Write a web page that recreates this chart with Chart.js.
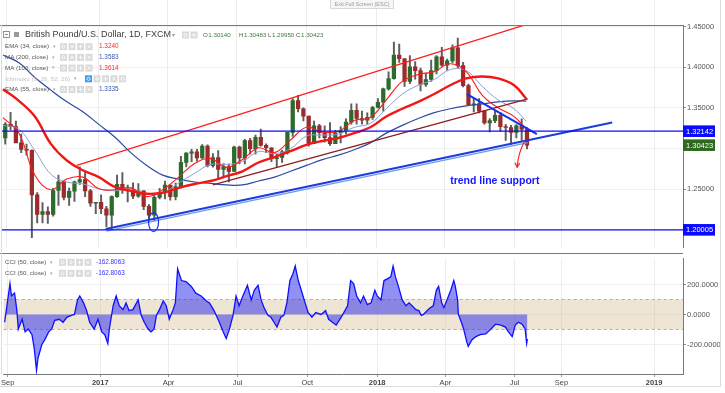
<!DOCTYPE html>
<html><head><meta charset="utf-8">
<script src="https://cdn.jsdelivr.net/npm/chart.js@4/dist/chart.umd.min.js"></script>
<style>
html,body{margin:0;padding:0;background:#fff;}
body{width:725px;height:393px;overflow:hidden;position:relative;}
#c1{position:absolute;left:0;top:0;}
#c2{position:absolute;left:0;top:253px;}
</style></head>
<body>
<canvas id="c1" width="725" height="253"></canvas>
<canvas id="c2" width="725" height="140"></canvas>
<script>
// ---------------- DATA ----------------
const baseDate = '2016-09-01';
const candleStart = '2016-08-22'; // Monday of first weekly candle
const opens  = [1.3090,1.3130,1.3300,1.3270,1.3070,1.2990,1.2980,1.2430,1.2190,1.2225,1.2190,1.2485,1.2590,1.2400,1.2475,1.2590,1.2620,1.2480,1.2330,1.2340,1.2260,1.2180,1.2410,1.2560,1.2490,1.2480,1.2415,1.2480,1.2290,1.2180,1.2400,1.2460,1.2550,1.2410,1.2530,1.2830,1.2945,1.2960,1.2885,1.3030,1.2790,1.2890,1.2745,1.2780,1.2720,1.3020,1.2885,1.3100,1.3000,1.3140,1.3040,1.3010,1.2875,1.2890,1.2960,1.3200,1.3590,1.3490,1.3400,1.3065,1.3280,1.3195,1.3135,1.3060,1.3195,1.3220,1.3325,1.3470,1.3370,1.3350,1.3385,1.3505,1.3570,1.3735,1.3860,1.4150,1.4105,1.3825,1.4005,1.3960,1.3790,1.3850,1.3960,1.4130,1.4025,1.4080,1.4240,1.4020,1.3775,1.3535,1.3550,1.3460,1.3315,1.3345,1.3410,1.3270,1.3260,1.3200,1.3280,1.3235];
const highs  = [1.3255,1.3320,1.3445,1.3340,1.3180,1.3055,1.2985,1.2460,1.2335,1.2285,1.2510,1.2675,1.2600,1.2515,1.2600,1.2775,1.2705,1.2500,1.2340,1.2430,1.2290,1.2420,1.2675,1.2705,1.2550,1.2580,1.2570,1.2480,1.2310,1.2430,1.2510,1.2600,1.2550,1.2575,1.2905,1.2950,1.2990,1.2990,1.3048,1.3045,1.2940,1.2975,1.2815,1.2810,1.3030,1.3030,1.3115,1.3125,1.3165,1.3240,1.3060,1.3010,1.2930,1.2980,1.3200,1.3615,1.3655,1.3500,1.3400,1.3340,1.3300,1.3280,1.3320,1.3225,1.3270,1.3365,1.3550,1.3550,1.3460,1.3440,1.3520,1.3615,1.3745,1.3945,1.4310,1.4285,1.4110,1.4145,1.4070,1.3990,1.3930,1.4090,1.4145,1.4245,1.4100,1.4275,1.4360,1.4060,1.3795,1.3620,1.3615,1.3470,1.3370,1.3470,1.3445,1.3300,1.3285,1.3295,1.3365,1.3260];
const lows   = [1.3055,1.3055,1.3230,1.3090,1.2950,1.2920,1.1905,1.2085,1.2085,1.2080,1.2170,1.2300,1.2370,1.2300,1.2350,1.2560,1.2410,1.2290,1.2200,1.2200,1.2040,1.2010,1.2400,1.2450,1.2345,1.2385,1.2400,1.2250,1.2110,1.2110,1.2380,1.2380,1.2365,1.2370,1.2515,1.2775,1.2840,1.2845,1.2880,1.2775,1.2770,1.2635,1.2640,1.2590,1.2720,1.2810,1.2810,1.2930,1.2930,1.3030,1.2950,1.2840,1.2775,1.2830,1.2930,1.3150,1.3450,1.3340,1.3030,1.3060,1.3130,1.3080,1.3040,1.3060,1.3070,1.3180,1.3300,1.3300,1.3300,1.3300,1.3360,1.3500,1.3460,1.3720,1.3855,1.4060,1.3765,1.3800,1.3855,1.3710,1.3765,1.3825,1.3920,1.4010,1.3965,1.4055,1.3990,1.3760,1.3530,1.3450,1.3440,1.3300,1.3205,1.3320,1.3210,1.3100,1.3050,1.3130,1.3100,1.2995];
const closes = [1.3130,1.3300,1.3270,1.3070,1.2990,1.2980,1.2430,1.2190,1.2225,1.2190,1.2485,1.2590,1.2400,1.2475,1.2590,1.2620,1.2480,1.2330,1.2340,1.2260,1.2180,1.2410,1.2560,1.2490,1.2480,1.2415,1.2480,1.2290,1.2180,1.2400,1.2460,1.2550,1.2410,1.2530,1.2830,1.2945,1.2960,1.2885,1.3030,1.2790,1.2890,1.2745,1.2780,1.2720,1.3020,1.2885,1.3100,1.3000,1.3140,1.3040,1.3010,1.2875,1.2890,1.2960,1.3200,1.3590,1.3490,1.3400,1.3065,1.3280,1.3195,1.3135,1.3060,1.3195,1.3220,1.3325,1.3470,1.3370,1.3350,1.3385,1.3505,1.3570,1.3735,1.3860,1.4150,1.4105,1.3825,1.4005,1.3960,1.3790,1.3850,1.3960,1.4130,1.4025,1.4080,1.4240,1.4020,1.3775,1.3535,1.3550,1.3460,1.3315,1.3345,1.3410,1.3270,1.3260,1.3200,1.3280,1.3235,1.30423];

const maDates = ['2016-08-28','2016-09-18','2016-10-09','2016-10-30','2016-11-20','2016-12-11','2017-01-01','2017-01-22','2017-02-12','2017-03-05','2017-03-26','2017-04-16','2017-05-07','2017-05-28','2017-06-18','2017-07-09','2017-07-30','2017-08-20','2017-09-10','2017-10-01','2017-10-22','2017-11-12','2017-12-03','2017-12-24','2018-01-14','2018-02-04','2018-02-25','2018-03-18','2018-04-08','2018-04-29','2018-05-20','2018-06-10','2018-07-01','2018-07-17'];
const ema34 = [1.3382,1.3190,1.2673,1.2493,1.2625,1.2649,1.2505,1.2493,1.2517,1.2409,1.2493,1.2649,1.2817,1.2877,1.2769,1.2865,1.3010,1.2950,1.3106,1.3262,1.3202,1.3214,1.3346,1.3382,1.3599,1.3827,1.3911,1.3947,1.4043,1.3947,1.3659,1.3502,1.3394,1.3240];
const ma200 = [1.4151,1.4055,1.3875,1.3719,1.3575,1.3454,1.3298,1.3142,1.2950,1.2793,1.2673,1.2625,1.2589,1.2571,1.2553,1.2553,1.2601,1.2649,1.2721,1.2793,1.2865,1.2919,1.2986,1.3070,1.3190,1.3286,1.3370,1.3442,1.3490,1.3526,1.3550,1.3575,1.3587,1.3583];
const ma100 = [1.3731,1.3587,1.3394,1.3058,1.2853,1.2733,1.2649,1.2529,1.2481,1.2445,1.2457,1.2517,1.2565,1.2601,1.2661,1.2721,1.2829,1.2895,1.2968,1.3046,1.3094,1.3130,1.3190,1.3262,1.3394,1.3490,1.3575,1.3671,1.3779,1.3863,1.3887,1.3863,1.3779,1.3614];
const ema55 = [1.3286,1.3238,1.2974,1.2685,1.2589,1.2565,1.2505,1.2481,1.2505,1.2445,1.2457,1.2577,1.2697,1.2805,1.2805,1.2841,1.2962,1.2937,1.2998,1.3154,1.3166,1.3178,1.3262,1.3310,1.3490,1.3671,1.3779,1.3851,1.3971,1.3959,1.3767,1.3599,1.3490,1.3335];

// CCI(50): days after baseDate and values
const cciDay = [-4,-1,3,5,9,12,14,16,19,23,27,32,35,38,40,45,49,54,58,62,68,73,78,84,88,92,95,100,104,108,114,119,124,128,132,134,139,143,147,152,156,160,165,172,176,180,185,189,193,196,200,205,209,213,218,221,224,229,235,242,248,255,262,266,272,279,284,288,292,297,301,305,310,316,321,325,330,334,338,343,347,351,355,360,364,368,372,376,379,383,387,392,396,401,406,413,419,423,428,433,437,441,448,452,456,460,465,469,474,479,484,487,492,496,501,505,508,511,515,520,525,529,533,538,542,545,548,553,557,561,565,568,572,575,579,584,588,590,593,594,598,601,605,607,612,617,623,630,636,643,650,656,660,665,669,673,678,682,684,685];
const cciValue = [-52,58,206,123,142,32,-97,-71,-32,-116,-97,-135,-226,-374,-290,-200,-168,-116,-97,-39,-32,-52,-19,-6,0,97,123,77,26,-52,-97,-32,-116,-135,-194,-97,58,123,58,32,77,26,32,97,-6,-52,-97,-116,-97,-6,32,90,58,-32,32,77,303,226,219,187,142,123,90,77,26,-52,-116,-161,-103,-6,123,58,123,194,97,161,194,97,45,-6,-19,-52,-84,-19,-6,77,226,271,323,226,161,77,13,-19,13,0,26,-32,-52,-71,-39,-6,58,226,206,123,77,123,65,77,161,123,97,226,239,252,323,252,187,97,58,77,58,32,26,-6,0,26,45,58,161,187,77,45,97,161,226,187,97,0,-52,-97,-181,-213,-168,-148,-135,-129,-103,-65,-71,-84,-116,-148,-71,-52,-65,-97,-194,-162.8063];
const cciBand = [100, -100];
const cciTicks = [-200, 0, 200];

// Drawn objects (date, price)
const channelTop    = {d:['2016-12-03','2018-07-22'], v:[1.2793,1.4541]};
const channelBottom = {d:['2017-05-31','2018-07-19'], v:[1.2553,1.3611]};
const supportLine   = {d:['2017-01-10','2018-11-07'], v:[1.2012,1.3322]};
const supportLine2  = {d:['2017-01-11','2018-07-19'], v:[1.1985,1.3073]};
const downTrend     = {d:['2018-04-30','2018-07-31'], v:[1.3671,1.3178]};
const hLevels = [1.32142, 1.20005];
const lastClose = 1.30423;
const ellipseAt = {d:'2017-03-14', v:1.2096};
const arrowLine = {d:['2018-07-15','2018-07-05'], v:[1.3094,1.2769]};
const noteText = {d:'2018-04-08', v:1.2605, text:'trend line support'};

const priceTicks = [1.20,1.25,1.30,1.35,1.40,1.45];
const xTickLabels = ['Sep','2017','Apr','Jul','Oct','2018','Apr','Jul','Sep','2019'];
const xTickDates  = ['2016-09-01','2017-01-01','2017-04-01','2017-07-01','2017-10-01','2018-01-01','2018-04-01','2018-07-01','2018-09-01','2019-01-01'];
const xTickBold   = [false,true,false,false,false,true,false,false,false,true];

const titleText = 'British Pound/U.S. Dollar, 1D, FXCM';
const ohlc = [['O','1.30140'],['H','1.30483'],['L','1.29950'],['C','1.30423']];
const legendRows = [
  {name:'EMA (34, close)', val:'1.3240', col:'#ff2626'},
  {name:'MA (200, close)', val:'1.3583', col:'#3a56ae'},
  {name:'MA (100, close)', val:'1.3614', col:'#ff2626'},
  {name:'Ichimoku (9, 26, 52, 26)', val:'', col:'#bbb', hidden:true},
  {name:'EMA (55, close)', val:'1.3335', col:'#3a56ae'}
];
const cciLegend = [{name:'CCI (50, close)', val:'-162.8063'},{name:'CCI (50, close)', val:'-162.8063'}];

// ---------------- HELPERS ----------------
const BASE = Date.parse(baseDate + 'T00:00:00Z');
const dayOf = s => (Date.parse(s + 'T00:00:00Z') - BASE) / 86400000;
const FONT = '"Liberation Sans", Arial, sans-serif';
const X_MIN = -5.26, X_MAX = 890.1;
const tickDays = xTickDates.map(dayOf);
const c0 = dayOf(candleStart);
const candleX = i => c0 + 7 * i + 2;
const pts = (dates, vals) => dates.map((d, i) => ({x: dayOf(d), y: vals[i]}));
const seg = o => pts(o.d, o.v);
const lineDs = (data, color, width, tension) => ({type:'line', data, borderColor:color, borderWidth:width, pointRadius:0, tension:tension||0, fill:false});

// ---------------- PRICE CHART ----------------
const datasets1 = [
  lineDs([{x:X_MIN,y:hLevels[0]},{x:X_MAX,y:hLevels[0]}], '#0b0bff', 1.3),
  lineDs([{x:X_MIN,y:hLevels[1]},{x:X_MAX,y:hLevels[1]}], '#0b0bff', 1.3),
  lineDs(seg(downTrend), '#1433e6', 2),
  lineDs(seg(supportLine), '#1c3ce0', 2),
  lineDs(seg(supportLine2), '#6f9ae8', 1.4),
  lineDs(seg(channelTop), '#ff1e1e', 1.3),
  lineDs(seg(channelBottom), '#8e1c1c', 1.2),
  lineDs(pts(maDates, ema34), '#ff1a1a', 1.1, 0.4),
  lineDs(pts(maDates, ma100), '#f21616', 2.4, 0.4),
  lineDs(pts(maDates, ema55), '#8b9fd6', 1, 0.4),
  lineDs(pts(maDates, ma200), '#2c4aa2', 1.2, 0.4),
  {type:'bar', grouped:false, barThickness:3.6, borderWidth:0,
   data: opens.map((o,i)=>({x:candleX(i), y:[o, closes[i]]})),
   backgroundColor: opens.map((o,i)=> closes[i] >= o ? '#2b6b2b' : '#9c2b2b')},
  {type:'bar', grouped:false, barThickness:1.3, borderWidth:0,
   data: lows.map((l,i)=>({x:candleX(i), y:[l, highs[i]]})),
   backgroundColor:'#5e5e5e'}
];

function box(ctx, x, y, col){
  ctx.fillStyle = col; ctx.fillRect(x, y-3.5, 7, 7);
}
function icons(ctx, x0, y, n, step, firstBlue){
  for (let i=0;i<n;i++){
    const x = x0 + i*step;
    box(ctx, x, y, (firstBlue && i===0) ? '#3d9be9' : '#dadada');
    ctx.strokeStyle = '#fff'; ctx.lineWidth = 0.8; ctx.beginPath();
    const k = i;
    if (k % 4 === 0){ ctx.arc(x+3.5, y, 1.6, 0, Math.PI*2); }
    else if (k % 4 === 1){ ctx.arc(x+3.5, y, 1.3, 0, Math.PI*2); }
    else if (k % 4 === 2){ ctx.moveTo(x+1.5,y); ctx.lineTo(x+5.5,y); ctx.moveTo(x+3.5,y-2); ctx.lineTo(x+3.5,y+2); }
    else { ctx.moveTo(x+1.8,y-1.8); ctx.lineTo(x+5.2,y+1.8); ctx.moveTo(x+5.2,y-1.8); ctx.lineTo(x+1.8,y+1.8); }
    ctx.stroke();
  }
}

const pricePlugin = {
  id:'pricePlugin',
  beforeDraw(chart){
    const ctx = chart.ctx, xs = chart.scales.x;
    ctx.save();
    ctx.fillStyle = '#fff'; ctx.fillRect(0,0,chart.width,chart.height);
    ctx.strokeStyle = '#ececec'; ctx.lineWidth = 1;
    tickDays.forEach(v=>{ const px = Math.round(xs.getPixelForValue(v))+0.5; ctx.beginPath(); ctx.moveTo(px,0); ctx.lineTo(px,25); ctx.stroke(); });
    ctx.restore();
  },
  afterDatasetsDraw(chart){
    const ctx = chart.ctx, xs = chart.scales.x, ys = chart.scales.y, a = chart.chartArea;
    ctx.save();
    ctx.beginPath(); ctx.rect(a.left, a.top, a.right-a.left, a.bottom-a.top); ctx.clip();
    // ellipse
    ctx.strokeStyle = '#1733e0'; ctx.lineWidth = 1.2;
    ctx.beginPath(); ctx.ellipse(xs.getPixelForValue(dayOf(ellipseAt.d)), ys.getPixelForValue(ellipseAt.v), 5, 9.5, 0, 0, Math.PI*2); ctx.stroke();
    // arrow
    const x1 = xs.getPixelForValue(dayOf(arrowLine.d[0])), y1 = ys.getPixelForValue(arrowLine.v[0]);
    const x2 = xs.getPixelForValue(dayOf(arrowLine.d[1])), y2 = ys.getPixelForValue(arrowLine.v[1]);
    ctx.strokeStyle = '#ff2020'; ctx.lineWidth = 1.2;
    ctx.beginPath(); ctx.moveTo(x1,y1); ctx.quadraticCurveTo(x2+1, y1+12, x2, y2); ctx.stroke();
    const ang = Math.atan2(y2-(y1+12), x2-(x2+1));
    ctx.beginPath();
    ctx.moveTo(x2 - 5*Math.cos(ang-0.5), y2 - 5*Math.sin(ang-0.5)); ctx.lineTo(x2,y2);
    ctx.lineTo(x2 - 5*Math.cos(ang+0.5), y2 - 5*Math.sin(ang+0.5)); ctx.stroke();
    // note
    ctx.fillStyle = '#1515ff'; ctx.font = 'bold 10.5px ' + FONT; ctx.textBaseline = 'middle'; ctx.textAlign = 'left';
    ctx.fillText(noteText.text, xs.getPixelForValue(dayOf(noteText.d)), ys.getPixelForValue(noteText.v));
    ctx.restore();
  },
  afterDraw(chart){
    const ctx = chart.ctx, ys = chart.scales.y, a = chart.chartArea;
    ctx.save();
    // pane top border
    ctx.strokeStyle = '#7a7a7a'; ctx.lineWidth = 1;
    ctx.beginPath(); ctx.moveTo(0, 25.5); ctx.lineTo(a.right, 25.5); ctx.stroke();
    // outer frame lines
    ctx.strokeStyle = '#dcdcdc';
    ctx.beginPath(); ctx.moveTo(1.5, 25); ctx.lineTo(1.5, 253); ctx.stroke();
    ctx.beginPath(); ctx.moveTo(720.5, 0); ctx.lineTo(720.5, 253); ctx.stroke();
    // Exit full screen
    ctx.fillStyle = '#f6f6f6'; ctx.fillRect(330, 0, 64, 9);
    ctx.strokeStyle = '#d8d8d8'; ctx.strokeRect(330.5, -0.5, 63, 9);
    ctx.fillStyle = '#9a9a9a'; ctx.font = '5.5px ' + FONT; ctx.textAlign = 'center'; ctx.textBaseline = 'middle';
    ctx.fillText('Exit Full Screen (ESC)', 362, 4.5);
    // title row
    ctx.textAlign = 'left';
    ctx.strokeStyle = '#777'; ctx.lineWidth = 0.8;
    ctx.strokeRect(3.5, 31.5, 6, 6);
    ctx.beginPath(); ctx.moveTo(5, 34.5); ctx.lineTo(8, 34.5); ctx.stroke();
    ctx.fillStyle = '#9a9a9a'; ctx.fillRect(14, 32, 5, 5);
    ctx.fillStyle = '#3c3c3c'; ctx.font = '9px ' + FONT; ctx.textBaseline = 'middle';
    ctx.fillText(titleText, 25, 35);
    ctx.fillStyle = '#999'; ctx.font = '6px ' + FONT; ctx.fillText('\u25BE', 172, 35);
    icons(ctx, 182, 35, 2, 8.5, false);
    const ox = [203, 239, 268, 296];
    ohlc.forEach((p,i)=>{
      ctx.font = '6.2px ' + FONT;
      ctx.fillStyle = '#555'; ctx.fillText(p[0], ox[i], 35.5);
      const w = ctx.measureText(p[0]).width;
      ctx.fillStyle = '#3b7a3b'; ctx.fillText(p[1], ox[i] + w + 0.5, 35.5);
    });
    // indicator rows
    legendRows.forEach((r,i)=>{
      const y = 46.7 + i*10.7;
      ctx.font = '6.2px ' + FONT;
      ctx.fillStyle = r.hidden ? '#c4c4c4' : '#555';
      ctx.fillText(r.name, 5, y);
      const w = ctx.measureText(r.name).width;
      ctx.fillStyle = '#aaa'; ctx.font = '5px ' + FONT; ctx.fillText('\u25BE', 5 + w + 4, y);
      if (r.hidden){ icons(ctx, 85, y, 5, 8.5, true); }
      else {
        icons(ctx, 60, y, 4, 8.5, false);
        ctx.fillStyle = r.col; ctx.font = '6.4px ' + FONT; ctx.fillText(r.val, 99, y);
      }
    });
    // price labels on the axis
    const tag = (v, col) => {
      const y = ys.getPixelForValue(v);
      ctx.fillStyle = col; ctx.fillRect(a.right, y-5.8, 32, 11.6);
      ctx.fillStyle = '#fff'; ctx.font = '7.5px ' + FONT; ctx.textBaseline = 'middle';
      ctx.fillText(v.toFixed(5), a.right + 3, y + 0.3);
    };
    tag(hLevels[0], '#0a0aff');
    tag(lastClose, '#2e6a1e');
    tag(hLevels[1], '#0a0aff');
    ctx.restore();
  }
};

new Chart(document.getElementById('c1'), {
  type:'line',
  data:{datasets:datasets1},
  options:{
    responsive:false, animation:false, events:[],
    layout:{padding:{left:2, top:25, right:0, bottom:0}},
    plugins:{legend:{display:false}, tooltip:{enabled:false}},
    scales:{
      x:{type:'linear', min:X_MIN, max:X_MAX, offset:false,
         afterBuildTicks:s=>{ s.ticks = tickDays.map(v=>({value:v})); },
         afterFit:s=>{ s.height = 0; },
         ticks:{display:false}, border:{display:false},
         grid:{color:'#ececec', drawTicks:false, offset:false}},
      y:{position:'right', min:1.17833, max:1.45204,
         afterBuildTicks:s=>{ s.ticks = priceTicks.map(v=>({value:v})); },
         afterFit:s=>{ s.width = 42; },
         ticks:{callback:v=>Number(v).toFixed(5), color:'#555', font:{size:7.5, family:FONT}, padding:1},
         grid:{color:'#efefef', tickLength:3, tickColor:'#888'},
         border:{display:true, color:'#7a7a7a'}}
    }
  },
  plugins:[pricePlugin]
});

// ---------------- CCI CHART ----------------
const cciPlugin = {
  id:'cciPlugin',
  beforeDraw(chart){ const ctx = chart.ctx; ctx.save(); ctx.fillStyle='#fff'; ctx.fillRect(0,0,chart.width,chart.height); ctx.restore(); },
  beforeDatasetsDraw(chart){
    const ctx = chart.ctx, ys = chart.scales.y, a = chart.chartArea;
    const yt = ys.getPixelForValue(cciBand[0]), yb = ys.getPixelForValue(cciBand[1]);
    ctx.save();
    ctx.fillStyle = 'rgba(214,194,152,0.42)';
    ctx.fillRect(a.left, yt, a.right-a.left, yb-yt);
    ctx.strokeStyle = '#b0b0b0'; ctx.lineWidth = 1; ctx.setLineDash([3,3]);
    [yt, yb].forEach(y=>{ ctx.beginPath(); ctx.moveTo(a.left, Math.round(y)+0.5); ctx.lineTo(a.right, Math.round(y)+0.5); ctx.stroke(); });
    ctx.restore();
  },
  afterDraw(chart){
    const ctx = chart.ctx, a = chart.chartArea;
    ctx.save();
    ctx.strokeStyle = '#7a7a7a'; ctx.lineWidth = 1;
    ctx.beginPath(); ctx.moveTo(0, 0.5); ctx.lineTo(a.right, 0.5); ctx.stroke();
    ctx.strokeStyle = '#dcdcdc';
    ctx.beginPath(); ctx.moveTo(1.5, 0); ctx.lineTo(1.5, a.bottom); ctx.stroke();
    ctx.beginPath(); ctx.moveTo(720.5, 0); ctx.lineTo(720.5, 134); ctx.stroke();
    ctx.beginPath(); ctx.moveTo(0, 133.5); ctx.lineTo(720, 133.5); ctx.stroke();
    ctx.textAlign = 'left'; ctx.textBaseline = 'middle';
    cciLegend.forEach((r,i)=>{
      const y = 9.3 + i*11;
      ctx.font = '6.2px ' + FONT; ctx.fillStyle = '#555'; ctx.fillText(r.name, 5, y);
      const w = ctx.measureText(r.name).width;
      ctx.fillStyle = '#aaa'; ctx.font = '5px ' + FONT; ctx.fillText('\u25BE', 5 + w + 4, y);
      icons(ctx, 59, y, 4, 8.5, false);
      ctx.fillStyle = '#3535ff'; ctx.font = '6.4px ' + FONT; ctx.fillText(r.val, 96, y);
    });
    ctx.restore();
  }
};

new Chart(document.getElementById('c2'), {
  type:'line',
  data:{datasets:[{
    data: cciDay.map((d,i)=>({x:d, y:cciValue[i]})),
    borderColor:'#0f0fff', borderWidth:1.3, pointRadius:0, tension:0,
    fill:{value:0}, backgroundColor:'rgba(45,45,235,0.52)'
  }]},
  options:{
    responsive:false, animation:false, events:[],
    layout:{padding:{left:2, top:1, right:0, bottom:0}},
    plugins:{legend:{display:false}, tooltip:{enabled:false}},
    scales:{
      x:{type:'linear', min:X_MIN, max:X_MAX, offset:false,
         afterBuildTicks:s=>{ s.ticks = tickDays.map(v=>({value:v})); },
         afterFit:s=>{ s.height = 19; },
         ticks:{autoSkip:false, maxRotation:0, padding:1, color:'#444',
                callback:(v,i)=>xTickLabels[i],
                font:ctx=>({size:7.5, family:FONT, weight: xTickBold[ctx.index] ? 'bold' : 'normal'})},
         grid:{color:'#ececec', tickLength:3, tickColor:'#999'},
         border:{display:true, color:'#7a7a7a'}},
      y:{position:'right', min:-397, max:373,
         afterBuildTicks:s=>{ s.ticks = cciTicks.map(v=>({value:v})); },
         afterFit:s=>{ s.width = 42; },
         ticks:{callback:v=>Number(v).toFixed(4), color:'#555', font:{size:7.5, family:FONT}, padding:1},
         grid:{color:'#efefef', tickLength:3, tickColor:'#888'},
         border:{display:true, color:'#7a7a7a'}}
    }
  },
  plugins:[cciPlugin]
});
</script>
</body></html>
